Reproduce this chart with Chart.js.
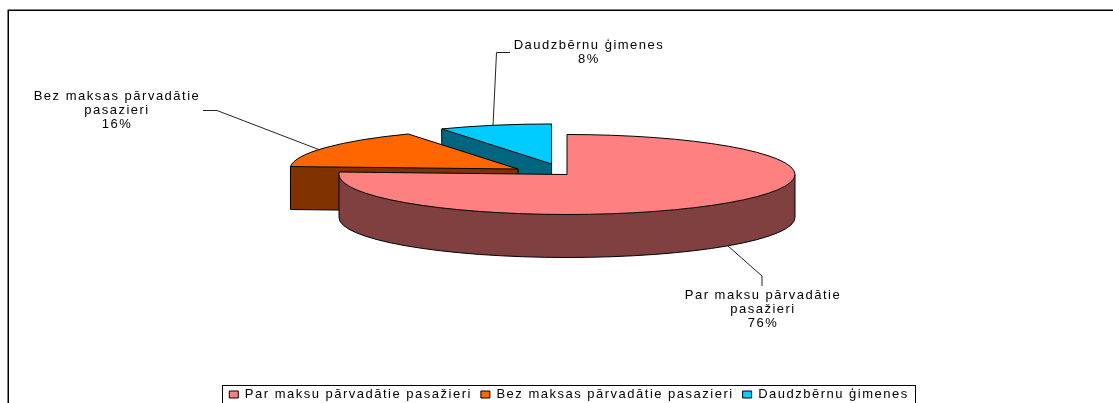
<!DOCTYPE html>
<html>
<head>
<meta charset="utf-8">
<style>
  html, body { margin: 0; padding: 0; background: #fff; overflow: hidden; }
  #wrap { width: 1113px; height: 403px; overflow: hidden; }
</style>
<script src="https://cdn.jsdelivr.net/npm/chart.js@4"></script>
</head>
<body>
<div id="wrap"><canvas id="pieChart" width="1113" height="411"></canvas></div>
<script>
const categories = ['Par maksu pārvadātie pasažieri', 'Bez maksas pārvadātie pasazieri', 'Daudzbērnu ģimenes'];
const shares = [76, 16, 8];

// styling, one entry per slice
const topColors = ['#FF8080', '#FF6600', '#00CCFF'];
const wallColors = ['#804040', '#803300', '#006680'];
const explode = [0, 58, 62];

// text lines of the data labels and where they sit
const labelLines = [['Par maksu pārvadātie', 'pasažieri'], ['Bez maksas pārvadātie', 'pasazieri'], ['Daudzbērnu ģimenes']];
const labelX = [763, 117, 589];
const labelY = [295, 96, 45];
const leaders = [
    [[728, 246], [762, 276], [762, 286]],
    [[203, 110.5], [217, 110.5], [320, 150]],
    [[510, 52.5], [496.5, 52.5], [493, 126]]
];

const fontFamily = '"Liberation Sans", Arial, sans-serif';
const spacing = '1.5px';
const radius = 228;
const tilt = 40 / 228;   // flattening of the disc
const depth = 43;        // thickness of the disc
const lift = 15;         // disc sits above the middle of the chart area
const nudge = 2;         // and a bit left of it, the legend is centred further right

function drawLine(ctx, x1, y1, x2, y2) {
    ctx.beginPath();
    ctx.moveTo(x1, y1);
    ctx.lineTo(x2, y2);
    ctx.stroke();
}

// wall under one straight edge of a slice
function edgeWall(ctx, cx, cy, px, py) {
    ctx.beginPath();
    ctx.moveTo(cx, cy);
    ctx.lineTo(px, py);
    ctx.lineTo(px, py + depth);
    ctx.lineTo(cx, cy + depth);
    ctx.closePath();
    ctx.fill();
}

const pie3d = {
    id: 'pie3d',
    beforeLayout(chart) {
        chart.ctx.letterSpacing = spacing;
    },
    beforeDraw(chart) {
        chart.ctx.letterSpacing = spacing;
    },
    beforeDatasetsDraw(chart) {
        const ctx = chart.ctx;
        const arcs = chart.getDatasetMeta(0).data;
        ctx.save();
        ctx.lineWidth = 1;
        ctx.strokeStyle = '#000';
        ctx.lineJoin = 'round';
        // back slices first, the big front slice last
        [2, 1, 0].forEach(i => {
            const arc = arcs[i];
            const mid = (arc.startAngle + arc.endAngle) / 2;
            const off = arc.options.offset;
            const cx = arc.x - nudge + Math.cos(mid) * off;
            const cy = arc.y - lift + Math.sin(mid) * off * tilt;
            const rx = arc.outerRadius;
            const ry = rx * tilt;
            const sx = cx + rx * Math.cos(arc.startAngle);
            const sy = cy + ry * Math.sin(arc.startAngle);
            const ex = cx + rx * Math.cos(arc.endAngle);
            const ey = cy + ry * Math.sin(arc.endAngle);

            // walls under the two straight edges
            ctx.fillStyle = wallColors[i];
            edgeWall(ctx, cx, cy, sx, sy);
            edgeWall(ctx, cx, cy, ex, ey);
            // only the small slices show the lower edge and the end posts of a cut face
            if (arc.circumference < Math.PI) {
                drawLine(ctx, sx, sy + depth, cx, cy + depth);
                drawLine(ctx, sx, sy, sx, sy + depth);
                drawLine(ctx, cx, cy, cx, cy + depth);
            }
            // curved wall, the part of the rim that faces the viewer
            const from = Math.max(arc.startAngle, 0);
            const to = Math.min(arc.endAngle, Math.PI);
            if (from < to) {
                ctx.beginPath();
                ctx.ellipse(cx, cy, rx, ry, 0, from, to);
                ctx.ellipse(cx, cy + depth, rx, ry, 0, to, from, true);
                ctx.closePath();
                ctx.fill();
                ctx.beginPath();
                ctx.ellipse(cx, cy + depth, rx, ry, 0, from, to);
                ctx.stroke();
                drawLine(ctx, cx + rx * Math.cos(from), cy + ry * Math.sin(from), cx + rx * Math.cos(from), cy + ry * Math.sin(from) + depth);
                drawLine(ctx, cx + rx * Math.cos(to), cy + ry * Math.sin(to), cx + rx * Math.cos(to), cy + ry * Math.sin(to) + depth);
            }
            // top face
            ctx.fillStyle = topColors[i];
            ctx.beginPath();
            ctx.moveTo(cx, cy);
            ctx.ellipse(cx, cy, rx, ry, 0, arc.startAngle, arc.endAngle);
            ctx.closePath();
            ctx.fill();
            ctx.stroke();
        });
        ctx.restore();
        return false;
    },
    afterDraw(chart) {
        const ctx = chart.ctx;
        ctx.save();
        // outer frame, cut off by the window on the right and at the bottom
        ctx.strokeStyle = '#000';
        ctx.lineWidth = 1.5;
        ctx.beginPath();
        ctx.moveTo(8.25, chart.height);
        ctx.lineTo(8.25, 10.25);
        ctx.lineTo(chart.width, 10.25);
        ctx.stroke();
        // legend box
        ctx.lineWidth = 1;
        const boxes = chart.legend.legendHitBoxes;
        const last = boxes[boxes.length - 1];
        ctx.strokeRect(Math.round(boxes[0].left - 7) + 0.5, 385.5, Math.round(last.left + last.width - boxes[0].left + 14), 30);
        // leader lines
        ctx.strokeStyle = '#222';
        leaders.forEach(line => {
            ctx.beginPath();
            line.forEach((p, n) => n ? ctx.lineTo(p[0], p[1]) : ctx.moveTo(p[0], p[1]));
            ctx.stroke();
        });
        // data labels
        ctx.fillStyle = '#000';
        ctx.font = '13px ' + fontFamily;
        ctx.textAlign = 'center';
        ctx.textBaseline = 'middle';
        labelLines.forEach((lines, i) => {
            lines.concat(shares[i] + '%').forEach((txt, n) => {
                ctx.fillText(txt, labelX[i], labelY[i] + n * 14);
            });
        });
        ctx.restore();
    }
};

new Chart(document.getElementById('pieChart').getContext('2d'), {
    type: 'pie',
    data: {
        labels: categories,
        datasets: [{
            data: shares,
            backgroundColor: topColors,
            borderColor: '#000',
            borderWidth: 1,
            offset: explode,
            radius: radius
        }]
    },
    options: {
        responsive: false,
        animation: false,
        events: [],
        layout: { padding: { left: 25 } },
        plugins: {
            tooltip: { enabled: false },
            legend: {
                position: 'bottom',
                labels: {
                    boxWidth: 9,
                    boxHeight: 7,
                    padding: 9,
                    color: '#000',
                    font: { family: fontFamily, size: 13 }
                }
            }
        }
    },
    plugins: [pie3d]
});
</script>
</body>
</html>
